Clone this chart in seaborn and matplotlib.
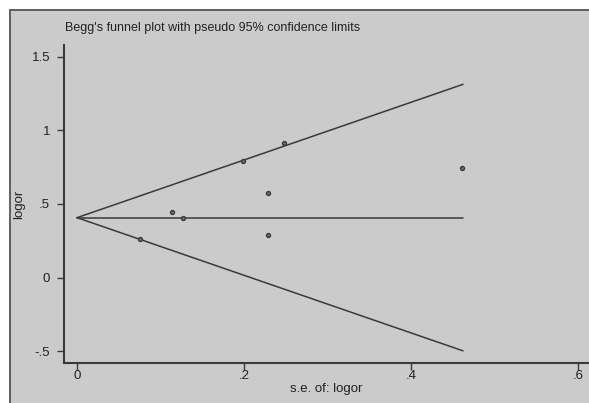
import matplotlib
matplotlib.use("Agg")
import matplotlib.pyplot as plt
import seaborn as sns
import pandas as pd
from matplotlib.lines import Line2D

# ---- data ----
se = [0.075, 0.114, 0.127, 0.199, 0.228, 0.229, 0.248, 0.461]
logor = [0.265, 0.448, 0.407, 0.794, 0.572, 0.292, 0.916, 0.746]
pooled = 0.407
line_se = [0.0, 0.462]
upper_limit = [0.407, 1.312]
lower_limit = [0.407, -0.497]
pooled_line = [0.407, 0.407]
xticks = [0, 0.2, 0.4, 0.6]
xticklabels = ["0", ".2", ".4", ".6"]
yticks = [-0.5, 0, 0.5, 1, 1.5]
yticklabels = ["-.5", "0", ".5", "1", "1.5"]
title = "Begg's funnel plot with pseudo 95% confidence limits"
xlabel = "s.e. of: logor"
ylabel = "logor"

sns.set_style("white")
plt.rcParams['font.family'] = ['Liberation Sans', 'DejaVu Sans']

W, H = 589, 403
bg = "#cbcbcb"
dark = "#3a3a3a"

fig = plt.figure(figsize=(W / 100, H / 100), dpi=100)
fig.patch.set_facecolor("white")
# gray panel with frame on top and left
fig.patches.append(plt.Rectangle((10 / W, 0), 1 - 10 / W, 1 - 10 / H,
                                 transform=fig.transFigure, facecolor=bg,
                                 edgecolor="none", zorder=-10))
fig.lines.append(Line2D([10 / W, 1], [1 - 10 / H, 1 - 10 / H], transform=fig.transFigure,
                        color="#555555", lw=1.3, zorder=-5))
fig.lines.append(Line2D([10 / W, 10 / W], [0, 1 - 10 / H], transform=fig.transFigure,
                        color="#555555", lw=1.3, zorder=-5))

ax = fig.add_axes([64 / W, (H - 363) / H, 1 - 64 / W, (363 - 45) / H])
ax.set_zorder(5)
ax.patch.set_alpha(0)

df_pts = pd.DataFrame({"se": se, "logor": logor})
df_lines = pd.DataFrame({
    "se": line_se * 3,
    "val": upper_limit + pooled_line + lower_limit,
    "kind": ["upper"] * 2 + ["pooled"] * 2 + ["lower"] * 2,
})

sns.lineplot(data=df_lines, x="se", y="val", units="kind", estimator=None,
             color=dark, lw=1.1, ax=ax, legend=False, sort=False)
sns.scatterplot(data=df_pts, x="se", y="logor", ax=ax, marker="o", s=8,
                facecolor="#707070", edgecolor=dark, linewidth=1.0, legend=False, zorder=3)

ax.set_xlim(-0.0156, 0.6128)
ax.set_ylim(-0.5795, 1.579)
ax.set_xticks(xticks)
ax.set_xticklabels(xticklabels)
ax.set_yticks(yticks)
ax.set_yticklabels(yticklabels)

for s in ["top", "right"]:
    ax.spines[s].set_visible(False)
for s in ["left", "bottom"]:
    ax.spines[s].set_color(dark)
    ax.spines[s].set_linewidth(1.5)

ax.tick_params(axis="both", direction="out", length=5, width=1, color=dark,
               labelsize=9.5, labelcolor="#222222", left=True, bottom=True)
ax.tick_params(axis="x", pad=0)
ax.tick_params(axis="y", pad=5)

ax.set_xlabel(xlabel, fontsize=9.5, color="#222222", labelpad=1)
ax.set_ylabel(ylabel, fontsize=9.5, color="#222222", labelpad=5)

fig.text(65 / W, 1 - 28 / H, title, fontsize=9, color="#222222",
         ha="left", va="center")

fig.savefig("out.png", dpi=100, facecolor="white")
